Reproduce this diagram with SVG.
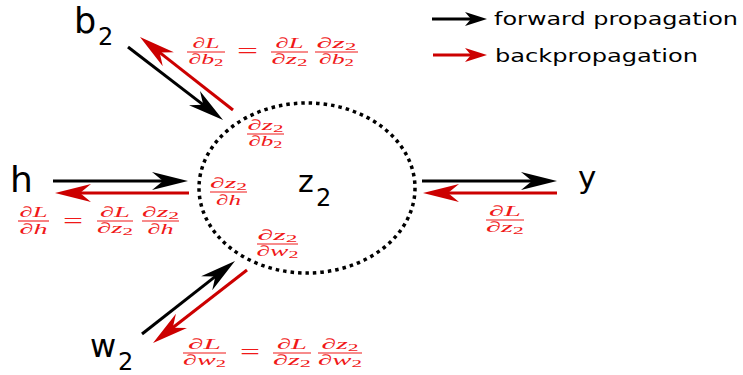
<svg xmlns="http://www.w3.org/2000/svg" width="743" height="375" viewBox="0 0 743 375">
<style>
.big{font-family:"DejaVu Sans",sans-serif;fill:#000}
.leg{font-family:"DejaVu Sans",sans-serif;font-size:18px;fill:#000}
.m text{font-family:"Liberation Serif","DejaVu Serif",serif;font-style:italic;font-size:15px;fill:#f01818;text-anchor:middle}
.m line{stroke:#f01818;stroke-width:1.1}
.eq{font-family:"Liberation Serif",serif;font-size:20px;fill:#f01818}
.s{font-size:11px;font-style:normal}
.fw{stroke:#000;stroke-width:3;fill:none}
.bw{stroke:#cc0000;stroke-width:3;fill:none}
</style>
<defs>
<marker id="hk" markerUnits="userSpaceOnUse" viewBox="-15 -10 38 20" markerWidth="38" markerHeight="20" refX="0" refY="0" orient="auto"><path d="M22,0 L-14,-9 L-3,0 L-14,9 Z" fill="#000"/></marker>
<marker id="hr" markerUnits="userSpaceOnUse" viewBox="-15 -10 38 20" markerWidth="38" markerHeight="20" refX="0" refY="0" orient="auto"><path d="M22,0 L-14,-9 L-3,0 L-14,9 Z" fill="#cc0000"/></marker>
<marker id="lk" markerUnits="userSpaceOnUse" viewBox="-11 -8 24 16" markerWidth="24" markerHeight="16" refX="0" refY="0" orient="auto"><path d="M12,0 L-10,-7 L-4,0 L-10,7 Z" fill="#000"/></marker>
<marker id="lr" markerUnits="userSpaceOnUse" viewBox="-11 -8 24 16" markerWidth="24" markerHeight="16" refX="0" refY="0" orient="auto"><path d="M12,0 L-10,-7 L-4,0 L-10,7 Z" fill="#cc0000"/></marker>
</defs>

<g id="node-z2">
<ellipse cx="307" cy="188" rx="108" ry="85" fill="none" stroke="#000" stroke-width="3.5" stroke-dasharray="3.5 4"/>
<text class="big" x="298" y="192" font-size="30">z</text>
<text class="big" x="316" y="206" font-size="24">2</text>
</g>
<g id="node-b2">
<text class="big" x="74" y="33" font-size="35">b</text>
<text class="big" x="98" y="45" font-size="24">2</text>
</g>
<g id="node-h">
<text class="big" x="10" y="192" font-size="36">h</text>
</g>
<g id="node-y">
<text class="big" x="578" y="188" font-size="31">y</text>
</g>
<g id="node-w2">
<text class="big" x="90" y="357" font-size="32">w</text>
<text class="big" x="118" y="370" font-size="24">2</text>
</g>

<g id="connectors">
<line class="fw" x1="128" y1="47" x2="205.6" y2="106.6" marker-end="url(#hk)"/>
<line class="bw" x1="233" y1="110" x2="157.3" y2="50.6" marker-end="url(#hr)"/>
<line class="fw" x1="53" y1="181" x2="166" y2="181" marker-end="url(#hk)"/>
<line class="bw" x1="189" y1="193" x2="77" y2="193" marker-end="url(#hr)"/>
<line class="fw" x1="142" y1="334" x2="217.7" y2="274.6" marker-end="url(#hk)"/>
<line class="bw" x1="247" y1="270" x2="170.4" y2="329.5" marker-end="url(#hr)"/>
<line class="fw" x1="422" y1="181" x2="535" y2="181" marker-end="url(#hk)"/>
<line class="bw" x1="557" y1="193" x2="445" y2="193" marker-end="url(#hr)"/>
</g>

<g id="legend">
<line class="fw" x1="432" y1="19" x2="475" y2="19" marker-end="url(#lk)"/>
<line class="bw" x1="433" y1="55" x2="475" y2="55" marker-end="url(#lr)"/>
<text class="leg" x="494" y="25" textLength="244" lengthAdjust="spacingAndGlyphs">forward propagation</text>
<text class="leg" x="495" y="62" textLength="203" lengthAdjust="spacingAndGlyphs">backpropagation</text>
</g>

<g id="labels">
<g class="m">
<line x1="187" y1="52" x2="225" y2="52"/>
<text x="206" y="48" textLength="27" lengthAdjust="spacingAndGlyphs">∂L</text>
<text x="206" y="64" textLength="35" lengthAdjust="spacingAndGlyphs">∂b<tspan class="s" dy="2">2</tspan></text>
</g>
<text class="eq" x="237" y="58" textLength="21" lengthAdjust="spacingAndGlyphs">=</text>
<g class="m">
<line x1="271" y1="52" x2="308" y2="52"/>
<text x="289.5" y="48" textLength="28" lengthAdjust="spacingAndGlyphs">∂L</text>
<text x="289.5" y="64" textLength="36" lengthAdjust="spacingAndGlyphs">∂z<tspan class="s" dy="2">2</tspan></text>
</g>
<g class="m">
<line x1="315" y1="52" x2="358" y2="52"/>
<text x="336.5" y="48" textLength="40" lengthAdjust="spacingAndGlyphs">∂z<tspan class="s" dy="2">2</tspan></text>
<text x="336.5" y="64" textLength="35" lengthAdjust="spacingAndGlyphs">∂b<tspan class="s" dy="2">2</tspan></text>
</g>

<g class="m">
<line x1="247" y1="134" x2="284" y2="134"/>
<text x="265.5" y="130" textLength="36" lengthAdjust="spacingAndGlyphs">∂z<tspan class="s" dy="2">2</tspan></text>
<text x="265.5" y="146" textLength="34" lengthAdjust="spacingAndGlyphs">∂b<tspan class="s" dy="2">2</tspan></text>
</g>

<g class="m">
<line x1="210" y1="192" x2="247" y2="192"/>
<text x="228.5" y="188" textLength="37" lengthAdjust="spacingAndGlyphs">∂z<tspan class="s" dy="2">2</tspan></text>
<text x="228.5" y="205" textLength="25" lengthAdjust="spacingAndGlyphs">∂h</text>
</g>

<g class="m">
<line x1="18" y1="221" x2="49" y2="221"/>
<text x="33.5" y="217" textLength="28" lengthAdjust="spacingAndGlyphs">∂L</text>
<text x="33.5" y="234" textLength="28" lengthAdjust="spacingAndGlyphs">∂h</text>
</g>
<text class="eq" x="63" y="228" textLength="20" lengthAdjust="spacingAndGlyphs">=</text>
<g class="m">
<line x1="97" y1="221" x2="133" y2="221"/>
<text x="115" y="217" textLength="30" lengthAdjust="spacingAndGlyphs">∂L</text>
<text x="115" y="233" textLength="36" lengthAdjust="spacingAndGlyphs">∂z<tspan class="s" dy="2">2</tspan></text>
</g>
<g class="m">
<line x1="142" y1="221" x2="179" y2="221"/>
<text x="160.5" y="217" textLength="37" lengthAdjust="spacingAndGlyphs">∂z<tspan class="s" dy="2">2</tspan></text>
<text x="160.5" y="234" textLength="26" lengthAdjust="spacingAndGlyphs">∂h</text>
</g>

<g class="m">
<line x1="257" y1="244" x2="298" y2="244"/>
<text x="277.5" y="240" textLength="40" lengthAdjust="spacingAndGlyphs">∂z<tspan class="s" dy="2">2</tspan></text>
<text x="277.5" y="256" textLength="42" lengthAdjust="spacingAndGlyphs">∂w<tspan class="s" dy="2">2</tspan></text>
</g>

<g class="m">
<line x1="183" y1="353" x2="226" y2="353"/>
<text x="204.5" y="349" textLength="33" lengthAdjust="spacingAndGlyphs">∂L</text>
<text x="204.5" y="365" textLength="43" lengthAdjust="spacingAndGlyphs">∂w<tspan class="s" dy="2">2</tspan></text>
</g>
<text class="eq" x="240" y="359" textLength="20" lengthAdjust="spacingAndGlyphs">=</text>
<g class="m">
<line x1="273" y1="353" x2="311" y2="353"/>
<text x="292" y="349" textLength="30" lengthAdjust="spacingAndGlyphs">∂L</text>
<text x="292" y="365" textLength="38" lengthAdjust="spacingAndGlyphs">∂z<tspan class="s" dy="2">2</tspan></text>
</g>
<g class="m">
<line x1="318" y1="353" x2="362" y2="353"/>
<text x="340" y="349" textLength="37" lengthAdjust="spacingAndGlyphs">∂z<tspan class="s" dy="2">2</tspan></text>
<text x="340" y="365" textLength="44" lengthAdjust="spacingAndGlyphs">∂w<tspan class="s" dy="2">2</tspan></text>
</g>

<g class="m">
<line x1="486" y1="220" x2="524" y2="220"/>
<text x="505" y="216" textLength="32" lengthAdjust="spacingAndGlyphs">∂L</text>
<text x="505" y="232" textLength="38" lengthAdjust="spacingAndGlyphs">∂z<tspan class="s" dy="2">2</tspan></text>
</g>
</g>
</svg>
